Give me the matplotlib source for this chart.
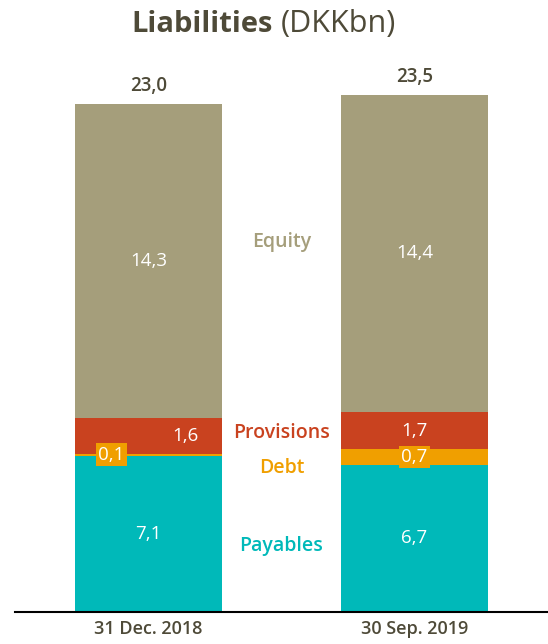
import matplotlib.pyplot as plt

plt.rcParams['font.family'] = ['Open Sans', 'DejaVu Sans']

# Liabilities by component, DKKbn
periods = ["31 Dec. 2018", "30 Sep. 2019"]
components = ["Payables", "Debt", "Provisions", "Equity"]
payables = [7.1, 6.7]
debt = [0.1, 0.7]
provisions = [1.6, 1.7]
equity = [14.3, 14.4]
totals = [23.0, 23.5]

colors = {"Payables": "#00B9B9", "Debt": "#F09F00",
          "Provisions": "#C9421F", "Equity": "#A59E7B"}
dark = "#4E4A38"

fig = plt.figure(figsize=(5.48, 6.44), dpi=100)
ax = fig.add_axes([15 / 548, 32 / 644, 533 / 548, 572 / 644])

x = [0, 1]
width = 0.553
bottom = [0, 0]
series = {"Payables": payables, "Debt": debt, "Provisions": provisions, "Equity": equity}
for name in components:
    vals = series[name]
    ax.bar(x, vals, width, bottom=bottom, color=colors[name], linewidth=0)
    for i, v in enumerate(vals):
        mid = bottom[i] + v / 2
        label = f"{v:.1f}".replace(".", ",")
        if name == "Debt":
            xi = x[i] - 0.14 if i == 0 else x[i]
            ax.text(xi, mid, label, ha="center", va="center", color="white",
                    fontsize=13.5, fontweight="medium",
                    bbox=dict(boxstyle="square,pad=0.12", fc=colors["Debt"], ec="none"))
        else:
            xi = x[i] + 0.14 if (name == "Provisions" and i == 0) else x[i]
            ax.text(xi, mid, label, ha="center", va="center", color="white",
                    fontsize=13.5, fontweight="medium")
    bottom = [b + v for b, v in zip(bottom, vals)]

# totals above the bars
for i, t in enumerate(totals):
    ax.text(x[i], bottom[i] + 0.35, f"{t:.1f}".replace(".", ","), ha="center",
            va="bottom", color=dark, fontsize=13.5, fontweight="semibold")

# component names between the bars
legend_pos = {"Equity": 16.8, "Provisions": 8.15, "Debt": 6.55, "Payables": 3.0}
for name, yv in legend_pos.items():
    ax.text(0.5, yv, name, ha="center", va="center", color=colors[name],
            fontsize=14, fontweight="semibold")

ax.set_xlim(-0.502, 1.502)
ax.set_ylim(0, 26)
ax.set_xticks(x)
ax.set_xticklabels(periods, fontsize=13, color=dark, fontweight="semibold")
ax.tick_params(axis="x", length=0, pad=6)
ax.set_yticks([])
for s in ["top", "right", "left"]:
    ax.spines[s].set_visible(False)
ax.spines["bottom"].set_linewidth(1.5)
ax.spines["bottom"].set_color("black")

fig.text(273 / 548, 1 - 24 / 644, "Liabilities", ha="right", va="center",
         fontsize=21, fontweight="bold", color=dark)
fig.text(281 / 548, 1 - 24 / 644, "(DKKbn)", ha="left", va="center",
         fontsize=22, fontweight="medium", color=dark)

fig.savefig("out.png", dpi=100)
